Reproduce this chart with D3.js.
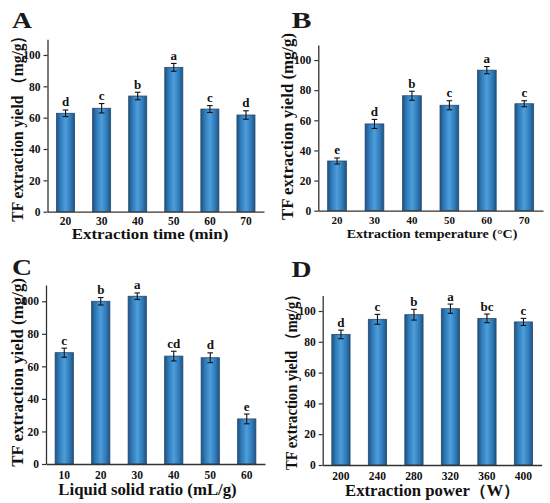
<!DOCTYPE html>
<html><head><meta charset="utf-8">
<script src="https://cdn.jsdelivr.net/npm/d3@7"></script>
<style>
body{margin:0;background:#fff;}
svg{display:block;font-family:"Times New Roman","Liberation Serif",serif;font-weight:bold;}
</style></head><body>
<svg id="c" width="550" height="503"></svg>
<script>
// ---- data ----
const catsA = ["20","30","40","50","60","70"];
const valsA = [62.8, 66.0, 73.8, 92.1, 65.5, 61.7];
const errA  = [2.1, 3.0, 2.4, 2.5, 2.2, 2.7];
const sigA  = ["d","c","b","a","c","d"];

const catsB = ["20","30","40","50","60","70"];
const valsB = [33.0, 57.6, 76.3, 70.0, 93.3, 71.0];
const errB  = [2.0, 3.0, 3.0, 3.0, 2.4, 2.0];
const sigB  = ["e","d","b","c","a","c"];

const catsC = ["10","20","30","40","50","60"];
const valsC = [68.4, 100.0, 103.1, 66.3, 65.3, 27.7];
const errC  = [2.8, 2.3, 2.0, 3.0, 3.0, 3.0];
const sigC  = ["c","b","a","cd","d","e"];

const catsD = ["200","240","280","320","360","400"];
const valsD = [84.8, 94.6, 97.6, 101.5, 95.2, 92.9];
const errD  = [2.8, 3.2, 3.5, 3.0, 2.8, 2.3];
const sigD  = ["d","c","b","a","bc","c"];

const yTicks = [0,20,40,60,80,100];
const yMax = 110;

const titlesX = ["Extraction time (min)","Extraction temperature (°C)","Liquid solid ratio (mL/g)","Extraction power（W）"];
const titlesY = ["TF extraction yield （mg/g）","TF extraction yield (mg/g)","TF extraction yield (mg/g)","TF extraction yield （mg/g）"];
const letters = ["A","B","C","D"];

// ---- layout ----
const panels = [
  {cats:catsA, vals:valsA, err:errA, sig:sigA, x0:47.5, x1:264, y0:211.7, yT:39.3, lx:12, ly:28,
   xt:{x0:71.7, w:156.6, dy:27, fs:15}, yt:{x:23, y0:28, y1:221.7}, tdy:13},
  {cats:catsB, vals:valsB, err:errB, sig:sigB, x0:318.3, x1:543, y0:210.7, yT:45, lx:291.5, ly:28,
   xt:{x0:346.7, w:170.7, dy:27, fs:13}, yt:{x:292.5, y0:33, y1:220}, tdy:13.5},
  {cats:catsC, vals:valsC, err:errC, sig:sigC, x0:46, x1:265, y0:464, yT:285, lx:12, ly:275,
   xt:{x0:58.3, w:178.4, dy:31, fs:16}, yt:{x:23, y0:278, y1:466.7}, tdy:15},
  {cats:catsD, vals:valsD, err:errD, sig:sigD, x0:322.7, x1:541.7, y0:465, yT:295.6, lx:291.5, ly:276.5,
   xt:{x0:345, w:175, dy:30.5, fs:16}, yt:{x:297, y0:287, y1:470}, tdy:14.7}
];

const svg = d3.select("#c");
const defs = svg.append("defs");
const grad = defs.append("linearGradient").attr("id","barg").attr("x1","0").attr("x2","1").attr("y1","0").attr("y2","0");
[[0,"#1c5284"],[0.2,"#2e78b6"],[0.5,"#4d9edb"],[0.8,"#2e78b6"],[1,"#1c5284"]].forEach(s=>
  grad.append("stop").attr("offset",s[0]).attr("stop-color",s[1]));

const FF = "Times New Roman, Liberation Serif, serif";

panels.forEach((p,i)=>{
  const g = svg.append("g");
  const x = d3.scaleBand().domain(p.cats).range([p.x0,p.x1]).paddingInner(0.5).paddingOuter(0.25);
  const y = d3.scaleLinear().domain([0,yMax]).range([p.y0,p.yT]);

  // bars
  g.selectAll("rect.bar").data(p.vals).join("rect")
    .attr("x",(d,j)=>x(p.cats[j])).attr("width",x.bandwidth())
    .attr("y",d=>y(d)).attr("height",d=>y(0)-y(d))
    .attr("fill","url(#barg)").attr("stroke","#2a4a68").attr("stroke-width",0.8);

  // error bars
  const cx = j=>x(p.cats[j])+x.bandwidth()/2;
  const eb = g.selectAll("g.eb").data(p.vals).join("g").attr("stroke","#111").attr("stroke-width",1.1);
  eb.append("line").attr("x1",(d,j)=>cx(j)).attr("x2",(d,j)=>cx(j)).attr("y1",(d,j)=>y(d+p.err[j])).attr("y2",(d,j)=>y(d-p.err[j]));
  eb.append("line").attr("x1",(d,j)=>cx(j)-2.8).attr("x2",(d,j)=>cx(j)+2.8).attr("y1",(d,j)=>y(d+p.err[j])).attr("y2",(d,j)=>y(d+p.err[j]));
  eb.append("line").attr("x1",(d,j)=>cx(j)-2.8).attr("x2",(d,j)=>cx(j)+2.8).attr("y1",(d,j)=>y(d-p.err[j])).attr("y2",(d,j)=>y(d-p.err[j]));

  // significance letters
  g.selectAll("text.sig").data(p.vals).join("text")
    .attr("x",(d,j)=>cx(j)).attr("y",(d,j)=>y(d+p.err[j])-3.5)
    .attr("text-anchor","middle").attr("font-size",13).attr("fill","#111")
    .text((d,j)=>p.sig[j]);

  // y axis
  const ya = g.append("g").attr("transform",`translate(${p.x0},0)`)
    .call(d3.axisLeft(y).tickValues(yTicks).tickSize(4).tickSizeOuter(0).tickPadding(3));
  ya.attr("font-family",FF);
  ya.select(".domain").attr("stroke","#333").attr("stroke-width",1.3);
  ya.selectAll(".tick line").attr("stroke","#333").attr("stroke-width",1.2);
  ya.selectAll(".tick text").attr("font-size",11.5).attr("font-family",FF).attr("font-weight","bold").attr("fill","#111");

  // x axis
  const xa = g.append("g").attr("transform",`translate(0,${p.y0})`)
    .call(d3.axisBottom(x).tickSize(0));
  xa.attr("font-family",FF);
  xa.select(".domain").attr("stroke","#333").attr("stroke-width",1.3);
  xa.selectAll(".tick text").attr("y",p.tdy).attr("dy",null)
    .attr("font-size",i===1?11:11.5).attr("font-family",FF).attr("font-weight","bold").attr("fill","#111");

  // axis titles
  g.append("text").attr("x",p.xt.x0).attr("y",p.y0+p.xt.dy)
    .attr("font-size",p.xt.fs).attr("fill","#111")
    .attr("textLength",p.xt.w).attr("lengthAdjust","spacingAndGlyphs").text(titlesX[i]);
  g.append("text").attr("transform",`translate(${p.yt.x},${p.yt.y1}) rotate(-90)`)
    .attr("font-size",17).attr("fill","#111")
    .attr("textLength",p.yt.y1-p.yt.y0).attr("lengthAdjust","spacingAndGlyphs").text(titlesY[i]);

  // panel letter
  g.append("text").attr("x",p.lx).attr("y",p.ly).attr("font-size",23)
    .attr("textLength",20).attr("lengthAdjust","spacingAndGlyphs").attr("fill","#1a1a1a").text(letters[i]);
});
</script>
</body></html>
